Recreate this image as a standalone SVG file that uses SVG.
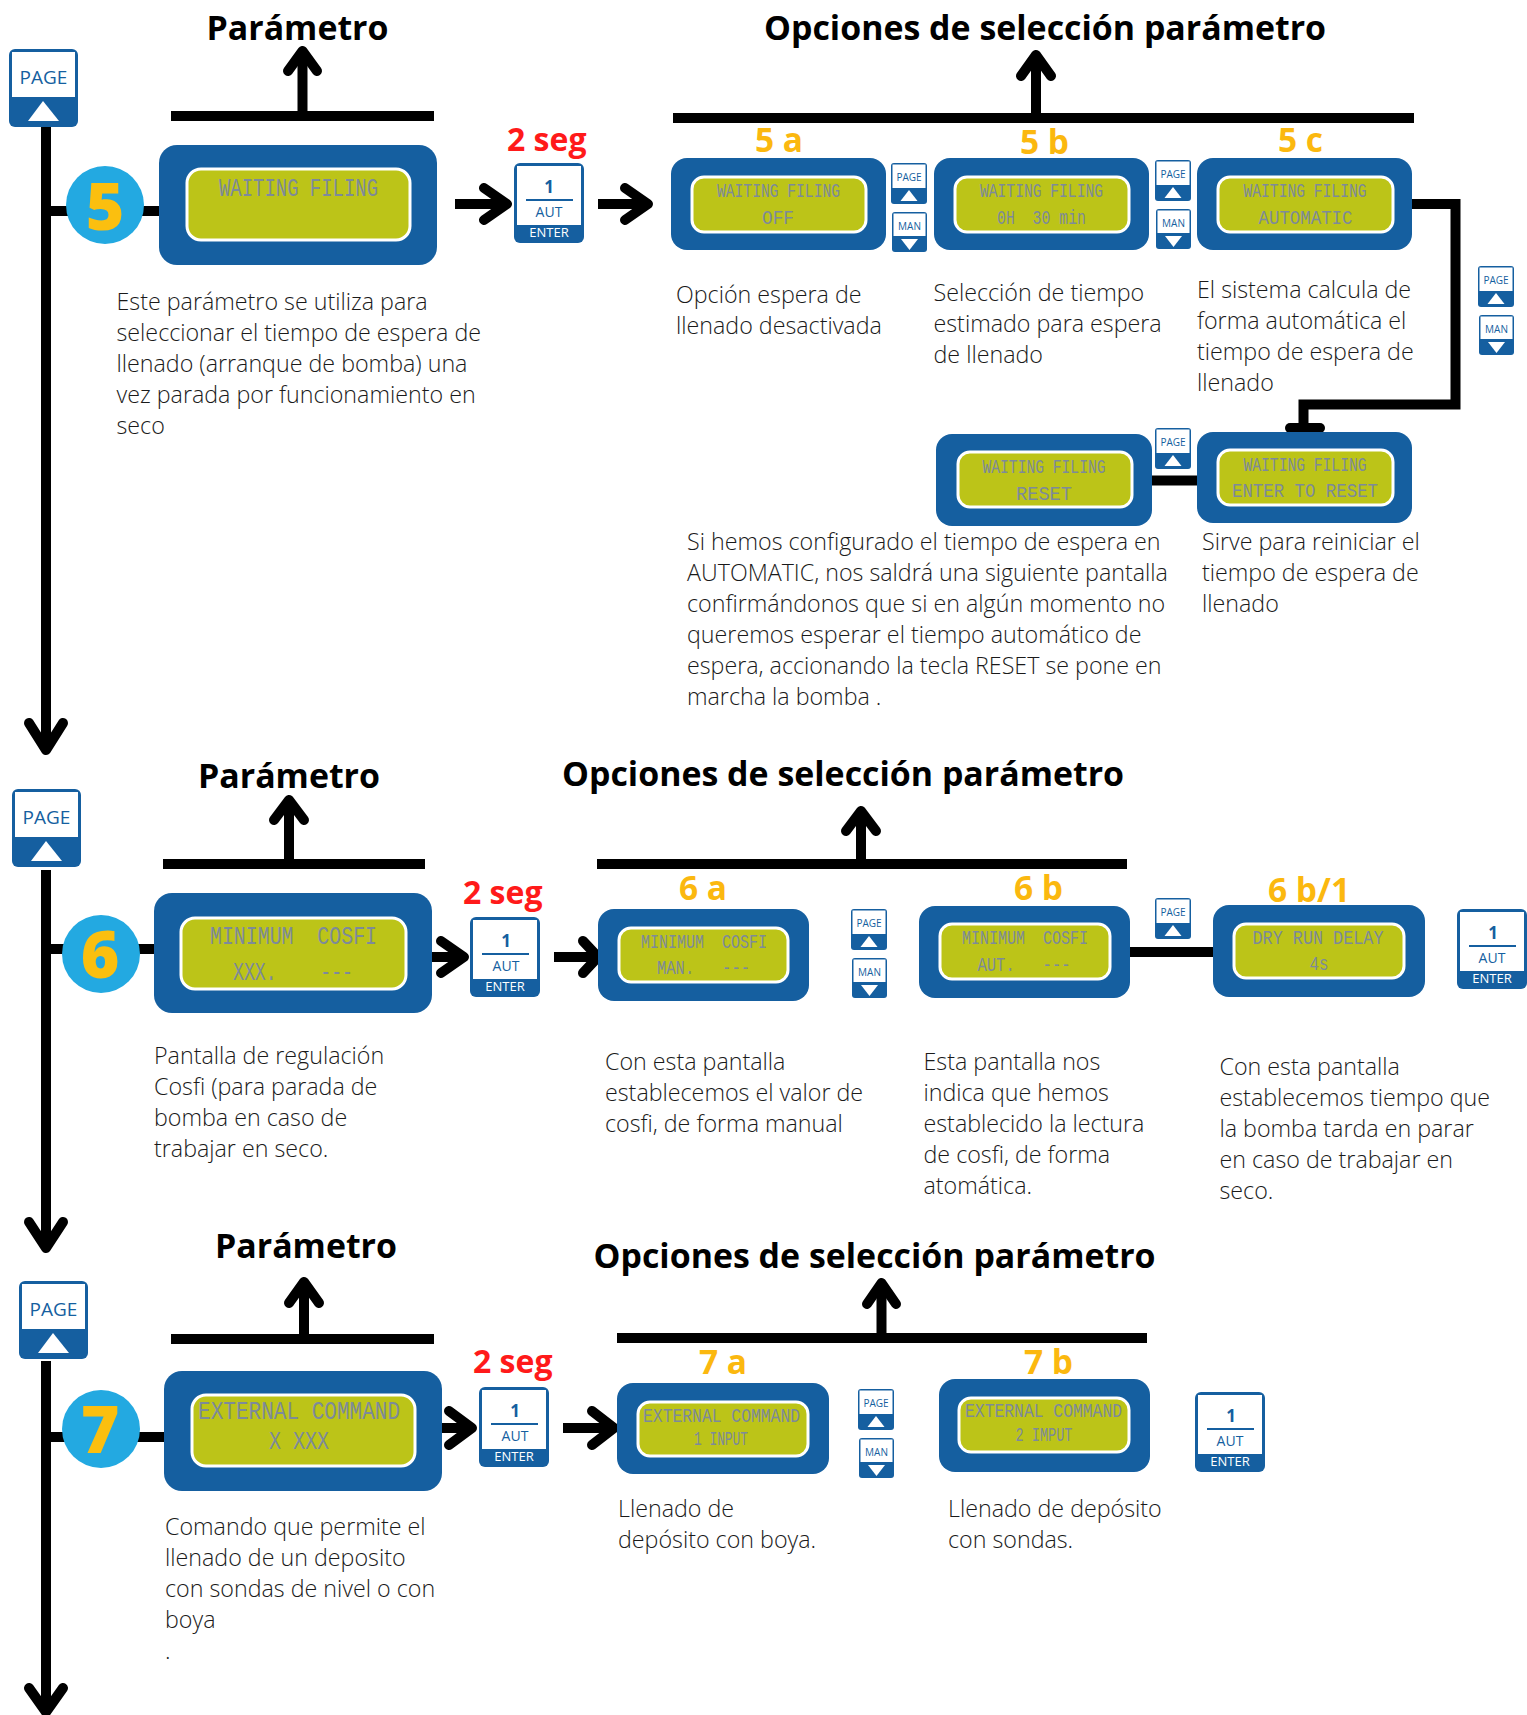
<svg xmlns="http://www.w3.org/2000/svg" width="1527" height="1715" viewBox="0 0 1527 1715">
<style>
text{font-family:"Open Sans","Liberation Sans",sans-serif}
.box{fill:#155fa0}
.lcd{fill:#bcc418;stroke:#fff;stroke-width:3}
.lt{font-family:"Liberation Mono","DejaVu Sans Mono",monospace;fill:#7d8a9a;text-anchor:middle;white-space:pre}
.l1{font-size:26px}
.l2{font-size:20px}
.ti{font-weight:700;font-size:33.900px;fill:#000}
.seg{font-weight:700;font-size:32px;fill:#ff1a1a}
.op{font-weight:700;font-size:33.500px;fill:#fbb80f}
.num{font-weight:800;font-size:66px;fill:#fbbf0f;text-anchor:middle}
.b{font-weight:300;font-size:23.250px;fill:#1a1a1a}
.c{fill:#23a9e1}
.w{fill:#fff}
.bt{fill:#155fa0;text-anchor:middle}
.wt{fill:#fff;text-anchor:middle}
.ln{fill:none;stroke:#000;stroke-width:10}
.ar{fill:none;stroke:#000;stroke-width:10;stroke-linecap:round;stroke-linejoin:round}
.bar{fill:#000}
</style>

<g id="connectors">
<path class="ln" d="M46 123V745M46 211H160"/>
<path class="ar" d="M29 723L46 750L63 723"/>
<path class="ln" d="M46 870V1243M46 949H155"/>
<path class="ar" d="M29 1222L46 1248L63 1222"/>
<path class="ln" d="M46 1361V1710M46 1437H165"/>
<path class="ar" d="M29 1688L46 1712L63 1688"/>

<rect class="bar" x="171" y="111" width="263" height="10"/>
<path class="ln" d="M302.500 113V53"/><path class="ar" d="M288 71L302.500 51L317 71"/>
<rect class="bar" x="673" y="113" width="741" height="10"/>
<path class="ln" d="M1036 115V55"/><path class="ar" d="M1021 76L1036 55L1051 76"/>
<path class="ln" d="M455 204H505"/><path class="ar" d="M484 188L507 204L484 220"/>
<path class="ln" d="M598 204H648"/><path class="ar" d="M625 188L648 204L625 220"/>
<path class="ln" d="M1412 204H1455.500V404.500H1303.500V428"/>
<path class="ar" d="M1290 428H1320"/>
<path class="ln" d="M1152 480.500H1197"/>

<rect class="bar" x="163" y="859" width="262" height="10"/>
<path class="ln" d="M289 861V802"/><path class="ar" d="M274 820L289 800L304 820"/>
<rect class="bar" x="597" y="859" width="530" height="10"/>
<path class="ln" d="M861 861V813"/><path class="ar" d="M846 831L861 811L876 831"/>
<path class="ln" d="M432 957H463"/><path class="ar" d="M441 941L464 957L441 973"/>
<path class="ln" d="M554 957H595"/><path class="ar" d="M583 941L598 957L583 973"/>
<path class="ln" d="M1130 952H1213"/>

<rect class="bar" x="171" y="1334" width="263" height="10"/>
<path class="ln" d="M304 1336V1286"/><path class="ar" d="M289 1303L304 1282L319 1303"/>
<rect class="bar" x="617" y="1333" width="530" height="10"/>
<path class="ln" d="M881.500 1335V1286"/><path class="ar" d="M867 1304L881.500 1283L896 1304"/>
<path class="ln" d="M441 1428H470"/><path class="ar" d="M449 1411L472 1428L449 1445"/>
<path class="ln" d="M563 1428H612"/><path class="ar" d="M592 1411L614 1428L592 1445"/>
</g>

<g id="titles">
<text class="ti" x="206.500" y="40">Parámetro</text>
<text class="ti" x="764" y="40">Opciones de selección parámetro</text>
<text class="ti" x="198" y="788">Parámetro</text>
<text class="ti" x="562" y="786">Opciones de selección parámetro</text>
<text class="ti" x="215" y="1258">Parámetro</text>
<text class="ti" x="593.500" y="1268">Opciones de selección parámetro</text>
</g>

<g id="page-5" transform="translate(9 49)"><rect class="box" width="69" height="78" rx="6"/><rect class="w" x="3" y="3" width="63" height="45"/><text class="bt" x="34.500" y="35" font-size="19">PAGE</text><path class="w" d="M34 52L19 72H50Z"/></g>
<g id="step-5"><circle class="c" cx="105" cy="205" r="39"/><text class="num" x="105" y="230">5</text></g>
<g id="lcd-5"><rect class="box" x="159" y="145" width="278" height="120" rx="18"/><rect class="lcd" x="187" y="169" width="223" height="71" rx="14"/><text class="lt l1" x="298.500" y="196" textLength="159" lengthAdjust="spacingAndGlyphs">WAITING FILING</text></g>
<text class="seg" x="507" y="151">2 seg</text>
<g id="enter-5" transform="translate(514 163)"><rect class="box" width="70" height="80" rx="6"/><rect class="w" x="3" y="3" width="64" height="59"/><text class="bt" x="35" y="30" font-size="17" font-weight="700">1</text><rect class="box" x="12" y="36" width="47" height="2"/><text class="bt" x="35" y="54" font-size="14">AUT</text><text class="wt" x="35" y="74" font-size="13">ENTER</text></g>

<g id="lcd-5a"><rect class="box" x="671" y="158" width="215" height="92" rx="16"/><rect class="lcd" x="692" y="177" width="174" height="55" rx="12"/><text class="lt l2" x="778.500" y="197" textLength="123" lengthAdjust="spacingAndGlyphs">WAITING FILING</text><text class="lt l2" x="778" y="224" textLength="32" lengthAdjust="spacingAndGlyphs">OFF</text></g>
<g id="lcd-5b"><rect class="box" x="934" y="158" width="215" height="92" rx="16"/><rect class="lcd" x="955" y="177" width="174" height="55" rx="12"/><text class="lt l2" x="1041.500" y="197" textLength="123" lengthAdjust="spacingAndGlyphs">WAITING FILING</text><text class="lt l2" x="1041.500" y="224" textLength="89" lengthAdjust="spacingAndGlyphs">0H  30 min</text></g>
<g id="lcd-5c"><rect class="box" x="1197" y="158" width="215" height="92" rx="16"/><rect class="lcd" x="1218" y="177" width="175" height="55" rx="12"/><text class="lt l2" x="1305" y="197" textLength="123" lengthAdjust="spacingAndGlyphs">WAITING FILING</text><text class="lt l2" x="1305.500" y="224" textLength="94" lengthAdjust="spacingAndGlyphs">AUTOMATIC</text></g>
<g id="lcd-5d"><rect class="box" x="1197" y="432" width="215" height="91" rx="16"/><rect class="lcd" x="1218" y="450" width="175" height="55" rx="12"/><text class="lt l2" x="1305" y="471" textLength="123" lengthAdjust="spacingAndGlyphs">WAITING FILING</text><text class="lt l2" x="1305" y="497" textLength="146" lengthAdjust="spacingAndGlyphs">ENTER TO RESET</text></g>
<g id="lcd-5e"><rect class="box" x="936" y="434" width="216" height="92" rx="16"/><rect class="lcd" x="958" y="452" width="174" height="55" rx="12"/><text class="lt l2" x="1044" y="473" textLength="123" lengthAdjust="spacingAndGlyphs">WAITING FILING</text><text class="lt l2" x="1044" y="500" textLength="56" lengthAdjust="spacingAndGlyphs">RESET</text></g>

<text class="op" x="755" y="152">5 a</text>
<text class="op" x="1020" y="154">5 b</text>
<text class="op" x="1278" y="152">5 c</text>

<g id="page-5a" transform="translate(891 163)"><rect class="box" width="36" height="41" rx="3"/><rect class="w" x="1.500" y="1.500" width="33" height="23.500"/><text class="bt" x="18" y="18" font-size="10">PAGE</text><path class="w" d="M18 27L9.500 38H26.500Z"/></g>
<g id="man-5a" transform="translate(892 212)"><rect class="box" width="35" height="40" rx="3"/><rect class="w" x="1.500" y="1.500" width="32" height="22.500"/><text class="bt" x="17.500" y="18" font-size="10">MAN</text><path class="w" d="M9 27H26L17.500 38Z"/></g>
<g id="page-5b" transform="translate(1155 160)"><rect class="box" width="36" height="41" rx="3"/><rect class="w" x="1.500" y="1.500" width="33" height="23.500"/><text class="bt" x="18" y="18" font-size="10">PAGE</text><path class="w" d="M18 27L9.500 38H26.500Z"/></g>
<g id="man-5b" transform="translate(1156 209)"><rect class="box" width="35" height="40" rx="3"/><rect class="w" x="1.500" y="1.500" width="32" height="22.500"/><text class="bt" x="17.500" y="18" font-size="10">MAN</text><path class="w" d="M9 27H26L17.500 38Z"/></g>
<g id="page-5c" transform="translate(1478 266)"><rect class="box" width="36" height="41" rx="3"/><rect class="w" x="1.500" y="1.500" width="33" height="23.500"/><text class="bt" x="18" y="18" font-size="10">PAGE</text><path class="w" d="M18 27L9.500 38H26.500Z"/></g>
<g id="man-5c" transform="translate(1479 315)"><rect class="box" width="35" height="40" rx="3"/><rect class="w" x="1.500" y="1.500" width="32" height="22.500"/><text class="bt" x="17.500" y="18" font-size="10">MAN</text><path class="w" d="M9 27H26L17.500 38Z"/></g>
<g id="page-5d" transform="translate(1155 428)"><rect class="box" width="36" height="41" rx="3"/><rect class="w" x="1.500" y="1.500" width="33" height="23.500"/><text class="bt" x="18" y="18" font-size="10">PAGE</text><path class="w" d="M18 27L9.500 38H26.500Z"/></g>

<g id="text-5">
<text class="b" x="116.500" y="310">Este parámetro se utiliza para</text>
<text class="b" x="116.500" y="341">seleccionar el tiempo de espera de</text>
<text class="b" x="116.500" y="372">llenado (arranque de bomba) una</text>
<text class="b" x="116.500" y="403">vez parada por funcionamiento en</text>
<text class="b" x="116.500" y="434">seco</text>
<text class="b" x="676" y="303">Opción espera de</text>
<text class="b" x="676" y="334">llenado desactivada</text>
<text class="b" x="933.500" y="301">Selección de tiempo</text>
<text class="b" x="933.500" y="332">estimado para espera</text>
<text class="b" x="933.500" y="363">de llenado</text>
<text class="b" x="1197" y="298">El sistema calcula de</text>
<text class="b" x="1197" y="329">forma automática el</text>
<text class="b" x="1197" y="360">tiempo de espera de</text>
<text class="b" x="1197" y="391">llenado</text>
<text class="b" x="687" y="550">Si hemos configurado el tiempo de espera en</text>
<text class="b" x="687" y="581">AUTOMATIC, nos saldrá una siguiente pantalla</text>
<text class="b" x="687" y="612">confirmándonos que si en algún momento no</text>
<text class="b" x="687" y="643">queremos esperar el tiempo automático de</text>
<text class="b" x="687" y="674">espera, accionando la tecla RESET se pone en</text>
<text class="b" x="687" y="705">marcha la bomba .</text>
<text class="b" x="1202" y="550">Sirve para reiniciar el</text>
<text class="b" x="1202" y="581">tiempo de espera de</text>
<text class="b" x="1202" y="612">llenado</text>
</g>

<g id="page-6" transform="translate(12 789)"><rect class="box" width="69" height="78" rx="6"/><rect class="w" x="3" y="3" width="63" height="45"/><text class="bt" x="34.500" y="35" font-size="19">PAGE</text><path class="w" d="M34 52L19 72H50Z"/></g>
<g id="step-6"><circle class="c" cx="101" cy="954" r="39"/><text class="num" x="100" y="978">6</text></g>
<g id="lcd-6"><rect class="box" x="154" y="893" width="278" height="120" rx="18"/><rect class="lcd" x="181" y="918" width="225" height="71" rx="14"/><text class="lt l1" x="293.500" y="944" textLength="167" lengthAdjust="spacingAndGlyphs">MINIMUM  COSFI</text><text class="lt l1" x="293" y="980" textLength="120" lengthAdjust="spacingAndGlyphs">XXX.    ---</text></g>
<text class="seg" x="463" y="904">2 seg</text>
<g id="enter-6" transform="translate(470 917)"><rect class="box" width="70" height="80" rx="6"/><rect class="w" x="3" y="3" width="64" height="59"/><text class="bt" x="36" y="30" font-size="17" font-weight="700">1</text><rect class="box" x="12" y="36" width="47" height="2"/><text class="bt" x="36" y="54" font-size="14">AUT</text><text class="wt" x="35" y="74" font-size="13">ENTER</text></g>
<text class="op" x="679" y="900">6 a</text>
<text class="op" x="1014" y="900">6 b</text>
<text class="op" x="1268" y="902">6 b/1</text>
<g id="lcd-6a"><rect class="box" x="598" y="909" width="211" height="92" rx="16"/><rect class="lcd" x="619" y="928" width="169" height="54" rx="12"/><text class="lt l2" x="704" y="948" textLength="126" lengthAdjust="spacingAndGlyphs">MINIMUM  COSFI</text><text class="lt l2" x="703.500" y="974" textLength="93" lengthAdjust="spacingAndGlyphs">MAN.   ---</text></g>
<g id="page-6a" transform="translate(851 909)"><rect class="box" width="36" height="41" rx="3"/><rect class="w" x="1.500" y="1.500" width="33" height="23.500"/><text class="bt" x="18" y="18" font-size="10">PAGE</text><path class="w" d="M18 27L9.500 38H26.500Z"/></g>
<g id="man-6a" transform="translate(852 958)"><rect class="box" width="35" height="40" rx="3"/><rect class="w" x="1.500" y="1.500" width="32" height="22.500"/><text class="bt" x="17.500" y="18" font-size="10">MAN</text><path class="w" d="M9 27H26L17.500 38Z"/></g>
<g id="lcd-6b"><rect class="box" x="919" y="906" width="211" height="92" rx="16"/><rect class="lcd" x="940" y="924" width="170" height="55" rx="12"/><text class="lt l2" x="1025" y="944" textLength="126" lengthAdjust="spacingAndGlyphs">MINIMUM  COSFI</text><text class="lt l2" x="1024" y="971" textLength="93" lengthAdjust="spacingAndGlyphs">AUT.   ---</text></g>
<g id="page-6b" transform="translate(1155 898)"><rect class="box" width="36" height="41" rx="3"/><rect class="w" x="1.500" y="1.500" width="33" height="23.500"/><text class="bt" x="18" y="18" font-size="10">PAGE</text><path class="w" d="M18 27L9.500 38H26.500Z"/></g>
<g id="lcd-6c"><rect class="box" x="1213" y="905" width="212" height="92" rx="16"/><rect class="lcd" x="1234" y="924" width="170" height="54" rx="12"/><text class="lt l2" x="1318" y="944" textLength="131" lengthAdjust="spacingAndGlyphs">DRY RUN DELAY</text><text class="lt l2" x="1319" y="970" textLength="19" lengthAdjust="spacingAndGlyphs">4s</text></g>
<g id="enter-6c" transform="translate(1457 909)"><rect class="box" width="70" height="80" rx="6"/><rect class="w" x="3" y="3" width="64" height="59"/><text class="bt" x="36" y="30" font-size="17" font-weight="700">1</text><rect class="box" x="12" y="36" width="47" height="2"/><text class="bt" x="35" y="54" font-size="14">AUT</text><text class="wt" x="35" y="74" font-size="13">ENTER</text></g>

<g id="text-6">
<text class="b" x="154" y="1064">Pantalla de regulación</text>
<text class="b" x="154" y="1095">Cosfi (para parada de</text>
<text class="b" x="154" y="1126">bomba en caso de</text>
<text class="b" x="154" y="1157">trabajar en seco.</text>
<text class="b" x="605" y="1070">Con esta pantalla</text>
<text class="b" x="605" y="1101">establecemos el valor de</text>
<text class="b" x="605" y="1132">cosfi, de forma manual</text>
<text class="b" x="923.500" y="1070">Esta pantalla nos</text>
<text class="b" x="923.500" y="1101">indica que hemos</text>
<text class="b" x="923.500" y="1132">establecido la lectura</text>
<text class="b" x="923.500" y="1163">de cosfi, de forma</text>
<text class="b" x="923.500" y="1194">atomática.</text>
<text class="b" x="1219.500" y="1075">Con esta pantalla</text>
<text class="b" x="1219.500" y="1106">establecemos tiempo que</text>
<text class="b" x="1219.500" y="1137">la bomba tarda en parar</text>
<text class="b" x="1219.500" y="1168">en caso de trabajar en</text>
<text class="b" x="1219.500" y="1199">seco.</text>
</g>

<g id="page-7" transform="translate(19 1281)"><rect class="box" width="69" height="78" rx="6"/><rect class="w" x="3" y="3" width="63" height="45"/><text class="bt" x="34.500" y="35" font-size="19">PAGE</text><path class="w" d="M34 52L19 72H50Z"/></g>
<g id="step-7"><circle class="c" cx="101" cy="1429" r="39"/><text class="num" x="100" y="1453">7</text></g>
<g id="lcd-7"><rect class="box" x="164" y="1371" width="278" height="120" rx="18"/><rect class="lcd" x="192" y="1395" width="223" height="71" rx="14"/><text class="lt l1" x="299" y="1419" textLength="202" lengthAdjust="spacingAndGlyphs">EXTERNAL COMMAND</text><text class="lt l1" x="299" y="1449" textLength="60" lengthAdjust="spacingAndGlyphs">X XXX</text></g>
<text class="seg" x="473" y="1373">2 seg</text>
<g id="enter-7" transform="translate(479 1387)"><rect class="box" width="70" height="80" rx="6"/><rect class="w" x="3" y="3" width="64" height="59"/><text class="bt" x="36" y="30" font-size="17" font-weight="700">1</text><rect class="box" x="12" y="36" width="47" height="2"/><text class="bt" x="36" y="54" font-size="14">AUT</text><text class="wt" x="35" y="74" font-size="13">ENTER</text></g>
<text class="op" x="699" y="1374">7 a</text>
<text class="op" x="1024" y="1374">7 b</text>
<g id="lcd-7a"><rect class="box" x="617" y="1383" width="212" height="91" rx="16"/><rect class="lcd" x="638" y="1402" width="170" height="54" rx="12"/><text class="lt l2" x="721.500" y="1422" textLength="157" lengthAdjust="spacingAndGlyphs">EXTERNAL COMMAND</text><text class="lt l2" x="721" y="1445" textLength="54" lengthAdjust="spacingAndGlyphs">1 INPUT</text></g>
<g id="page-7a" transform="translate(858 1389)"><rect class="box" width="36" height="41" rx="3"/><rect class="w" x="1.500" y="1.500" width="33" height="23.500"/><text class="bt" x="18" y="18" font-size="10">PAGE</text><path class="w" d="M18 27L9.500 38H26.500Z"/></g>
<g id="man-7a" transform="translate(859 1438)"><rect class="box" width="35" height="40" rx="3"/><rect class="w" x="1.500" y="1.500" width="32" height="22.500"/><text class="bt" x="17.500" y="18" font-size="10">MAN</text><path class="w" d="M9 27H26L17.500 38Z"/></g>
<g id="lcd-7b"><rect class="box" x="939" y="1379" width="211" height="93" rx="16"/><rect class="lcd" x="959" y="1398" width="170" height="54" rx="12"/><text class="lt l2" x="1043.500" y="1417" textLength="157" lengthAdjust="spacingAndGlyphs">EXTERNAL COMMAND</text><text class="lt l2" x="1044" y="1441" textLength="57" lengthAdjust="spacingAndGlyphs">2 IMPUT</text></g>
<g id="enter-7b" transform="translate(1195 1392)"><rect class="box" width="70" height="80" rx="6"/><rect class="w" x="3" y="3" width="64" height="59"/><text class="bt" x="36" y="30" font-size="17" font-weight="700">1</text><rect class="box" x="12" y="36" width="47" height="2"/><text class="bt" x="35" y="54" font-size="14">AUT</text><text class="wt" x="35" y="74" font-size="13">ENTER</text></g>

<g id="text-7">
<text class="b" x="165" y="1535">Comando que permite el</text>
<text class="b" x="165" y="1566">llenado de un deposito</text>
<text class="b" x="165" y="1597">con sondas de nivel o con</text>
<text class="b" x="165" y="1628">boya</text>
<text class="b" x="165" y="1659">.</text>
<text class="b" x="618" y="1517">Llenado de</text>
<text class="b" x="618" y="1548">depósito con boya.</text>
<text class="b" x="948" y="1517">Llenado de depósito</text>
<text class="b" x="948" y="1548">con sondas.</text>
</g>
</svg>
